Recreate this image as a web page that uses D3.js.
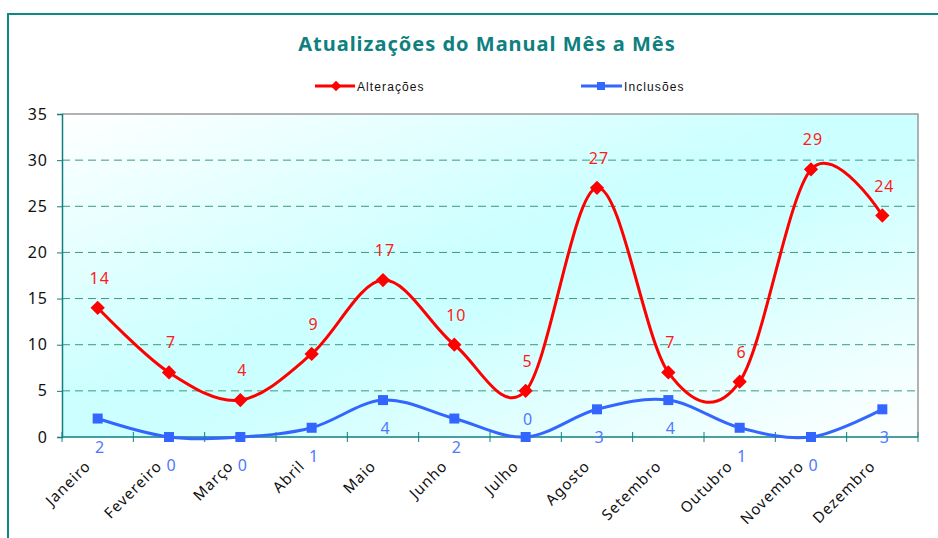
<!DOCTYPE html>
<html>
<head>
<meta charset="utf-8">
<script src="https://cdn.jsdelivr.net/npm/d3@7"></script>
<style>
  body { margin: 0; background: #fff; }
  text { font-family: "Noto Sans", "DejaVu Sans", sans-serif; }
</style>
</head>
<body>
<div id="chart"></div>
<script>
// data
var months = ["Janeiro", "Fevereiro", "Março", "Abril", "Maio", "Junho",
              "Julho", "Agosto", "Setembro", "Outubro", "Novembro", "Dezembro"];
var alteracoes = [14, 7, 4, 9, 17, 10, 5, 27, 7, 6, 29, 24];
var inclusoes = [2, 0, 0, 1, 4, 2, 0, 3, 4, 1, 0, 3];
var yTicks = [0, 5, 10, 15, 20, 25, 30, 35];

var W = 938, H = 538;
var margin = {top: 114, right: 20, bottom: 101, left: 62},
    width = 918 - margin.left,
    height = 437 - margin.top;

var svg = d3.select("#chart").append("svg")
    .attr("width", W)
    .attr("height", H);

// outer frame
svg.append("path")
  .attr("d", "M8," + H + "V14H" + W)
  .attr("fill", "none")
  .attr("stroke", "#0e8a86")
  .attr("stroke-width", 2);

// title
svg.append("text")
  .attr("x", 487).attr("y", 51)
  .attr("text-anchor", "middle")
  .attr("fill", "#0e8080")
  .attr("font-size", 20)
  .attr("font-weight", "bold")
  .attr("letter-spacing", 1)
  .text("Atualizações do Manual Mês a Mês");

// background gradient
var defs = svg.append("defs");
var grad = defs.append("linearGradient")
  .attr("id", "bg")
  .attr("x1", "0%").attr("y1", "0%")
  .attr("x2", "100%").attr("y2", "100%");
grad.append("stop").attr("offset", "0%").attr("stop-color", "#ffffff");
grad.append("stop").attr("offset", "45%").attr("stop-color", "#ccffff");
grad.append("stop").attr("offset", "55%").attr("stop-color", "#ccffff");
grad.append("stop").attr("offset", "100%").attr("stop-color", "#ffffff");

var g = svg.append("g")
  .attr("transform", "translate(" + margin.left + "," + margin.top + ")");

var x = d3.scaleBand().domain(months).range([0, width]);
var y = d3.scaleLinear().domain([0, 35]).range([height, 0]);
var cx = function(d, i) { return x(months[i]) + x.bandwidth() / 2; };

g.append("rect")
  .attr("width", width).attr("height", height)
  .attr("fill", "url(#bg)");

// grid lines
g.selectAll(".grid")
  .data(yTicks.filter(function(d) { return d > 0 && d < 35; }))
  .enter().append("line")
  .attr("x1", 0).attr("x2", width)
  .attr("y1", function(d) { return y(d); })
  .attr("y2", function(d) { return y(d); })
  .attr("stroke", "#3a9a7a")
  .attr("stroke-dasharray", "8,5")
  .attr("stroke-width", 1);

// top and right border
g.append("path")
  .attr("d", "M0,0H" + width + "V" + height)
  .attr("fill", "none")
  .attr("stroke", "#999")
  .attr("stroke-width", 1.5);

// Y axis
var yAxis = g.append("g")
  .call(d3.axisLeft(y).tickValues(yTicks).tickSize(5).tickPadding(9));
yAxis.select(".domain").attr("stroke", "#0e8080").attr("stroke-width", 1.5);
yAxis.selectAll(".tick line").attr("stroke", "#0e8080");
yAxis.selectAll("text")
  .attr("font-size", 16)
  .attr("letter-spacing", 1)
  .attr("fill", "#111")
  .style("font-family", "'Noto Sans', 'DejaVu Sans', sans-serif");

// X axis
var xAxis = g.append("g").attr("transform", "translate(0," + height + ")");
xAxis.append("line")
  .attr("x1", 0).attr("x2", width)
  .attr("stroke", "#0e8080").attr("stroke-width", 1.5);
xAxis.selectAll(".xt")
  .data(d3.range(months.length + 1))
  .enter().append("line")
  .attr("x1", function(i) { return i * x.bandwidth(); })
  .attr("x2", function(i) { return i * x.bandwidth(); })
  .attr("y1", -5).attr("y2", 5)
  .attr("stroke", "#0e8080");
xAxis.selectAll(".xl")
  .data(months)
  .enter().append("text")
  .attr("transform", function(d) {
    return "translate(" + (x(d) + x.bandwidth() / 2 - 6) + ",30) rotate(-45)";
  })
  .attr("text-anchor", "end")
  .attr("font-size", 15)
  .attr("letter-spacing", 1)
  .attr("fill", "#111")
  .text(function(d) { return d; });

var line = d3.line()
  .x(cx)
  .y(function(d) { return y(d); })
  .curve(d3.curveCatmullRom.alpha(0));

// Inclusoes
g.append("path")
  .datum(inclusoes)
  .attr("fill", "none")
  .attr("stroke", "#3366ff")
  .attr("stroke-width", 3)
  .attr("d", line);
g.selectAll(".sq")
  .data(inclusoes)
  .enter().append("rect")
  .attr("x", function(d, i) { return cx(d, i) - 5; })
  .attr("y", function(d) { return y(d) - 5; })
  .attr("width", 10).attr("height", 10)
  .attr("fill", "#3366ff");

// Alteracoes
g.append("path")
  .datum(alteracoes)
  .attr("fill", "none")
  .attr("stroke", "#ff0000")
  .attr("stroke-width", 3)
  .attr("d", line);
g.selectAll(".dm")
  .data(alteracoes)
  .enter().append("path")
  .attr("transform", function(d, i) { return "translate(" + cx(d, i) + "," + y(d) + ")"; })
  .attr("d", d3.symbol().type(d3.symbolDiamond2).size(130))
  .attr("fill", "#ff0000");

// labels
g.selectAll(".la")
  .data(alteracoes)
  .enter().append("text")
  .attr("x", function(d, i) { return cx(d, i) + 2; })
  .attr("y", function(d) { return y(d) - 24; })
  .attr("text-anchor", "middle")
  .attr("font-size", 16)
  .attr("letter-spacing", 1)
  .attr("fill", "#ff1a1a")
  .text(function(d) { return d; });

g.selectAll(".li")
  .data(inclusoes)
  .enter().append("text")
  .attr("x", function(d, i) { return cx(d, i) + 2; })
  .attr("y", function(d, i) { return i === 6 ? y(d) - 12 : y(d) + 34; })
  .attr("text-anchor", "middle")
  .attr("font-size", 16)
  .attr("fill", "#4d79ff")
  .text(function(d) { return d; });

// legend
var leg = svg.append("g").attr("transform", "translate(0,86)");
leg.append("line").attr("x1", 315).attr("x2", 355)
  .attr("stroke", "#ff0000").attr("stroke-width", 3);
leg.append("path").attr("transform", "translate(336,0)")
  .attr("d", d3.symbol().type(d3.symbolDiamond2).size(70))
  .attr("fill", "#ff0000");
leg.append("text").attr("x", 357).attr("y", 4.5)
  .attr("font-size", 12).attr("letter-spacing", 1.1).attr("fill", "#111")
  .style("font-family", "'Liberation Sans', Arial, sans-serif")
  .text("Alterações");
leg.append("line").attr("x1", 581).attr("x2", 622)
  .attr("stroke", "#3366ff").attr("stroke-width", 3);
leg.append("rect").attr("x", 597).attr("y", -4).attr("width", 8).attr("height", 8)
  .attr("fill", "#3366ff");
leg.append("text").attr("x", 624).attr("y", 4.5)
  .attr("font-size", 12).attr("letter-spacing", 1.1).attr("fill", "#111")
  .style("font-family", "'Liberation Sans', Arial, sans-serif")
  .text("Inclusões");
</script>
</body>
</html>
